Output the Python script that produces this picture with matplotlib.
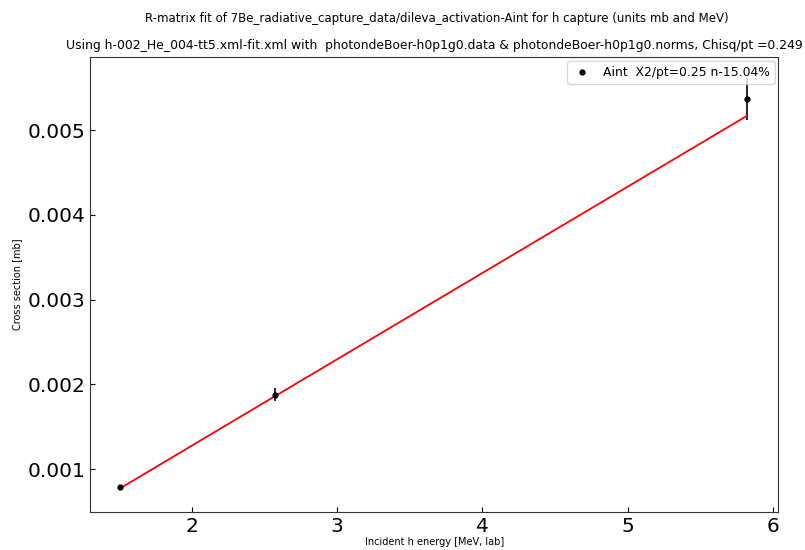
#!/usr/bin/env python3
import matplotlib
matplotlib.use("Agg")
import matplotlib.pyplot as plt

# Measured activation cross sections and R-matrix fit
energy = [1.50, 2.57, 5.82]
xs_data = [0.00079, 0.00188, 0.005365]
xs_err = [0.00002, 0.00008, 0.00025]
xs_fit = [0.00077, 0.00186, 0.005165]

fig = plt.figure(figsize=(8.05, 5.5), dpi=100)
ax = fig.add_axes([0.112, 0.069, 0.855, 0.827])

ax.errorbar(energy, xs_data, yerr=xs_err, fmt="o", color="black", ms=3.5,
            elinewidth=1.2)
ax.plot([], [], "o", color="black", ms=3.5, label="Aint  X2/pt=0.25 n-15.04%")
ax.plot(energy, xs_fit, color="red", lw=1.3)

ax.set_xlim(1.297, 6.04)
ax.set_ylim(0.000494, 0.00586)
ax.set_xticks([2, 3, 4, 5, 6])
ax.set_yticks([0.001, 0.002, 0.003, 0.004, 0.005])
ax.tick_params(direction="in", labelsize=14.5)
for s in ax.spines.values():
    s.set_color("#333333")

ax.set_xlabel("Incident h energy [MeV, lab]", fontsize=7, labelpad=1)
ax.set_ylabel("Cross section [mb]", fontsize=7)
fig.text(0.543, 0.967,
         "R-matrix fit of 7Be_radiative_capture_data/dileva_activation-Aint for h capture (units mb and MeV)",
         fontsize=8.5, ha="center", va="center")
ax.set_title("Using h-002_He_004-tt5.xml-fit.xml with  photondeBoer-h0p1g0.data & photondeBoer-h0p1g0.norms, Chisq/pt =0.249",
             fontsize=8.9, pad=6)
ax.legend(loc="upper right", fontsize=8.9, handlelength=1.6, handletextpad=0.9,
          borderaxespad=0.3)

fig.savefig("out.png", dpi=100)
